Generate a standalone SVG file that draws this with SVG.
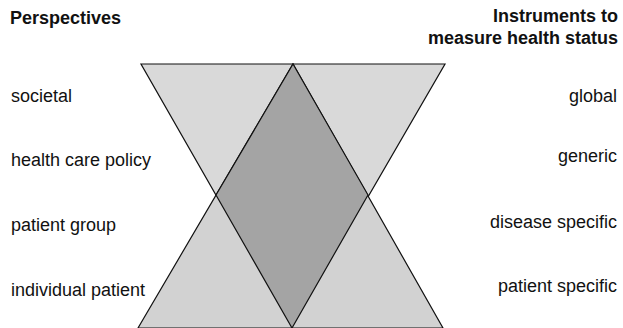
<svg xmlns="http://www.w3.org/2000/svg" width="623" height="328" viewBox="0 0 623 328">
<style>
.t{font-family:"Liberation Sans",Arial,sans-serif;font-size:18px;fill:#111}
.h{font-family:"Liberation Sans",Arial,sans-serif;font-size:18px;font-weight:bold;fill:#111}
.r{text-anchor:end}
.tri{stroke:#111;stroke-width:1.2;stroke-linejoin:miter}
</style>
<rect width="623" height="328" fill="#fff"/>
<g id="shapes">
<polygon id="down-triangle" class="tri" points="141,64 445,64 292,328" fill="#d9d9d9"/>
<polygon id="up-triangle" class="tri" points="138,328 293,64 443,328" fill="#d2d2d2"/>
<polygon id="overlap" class="tri" points="293,64 368,195 292,328 216,195" fill="#a4a4a4"/>
</g>
<g id="header-left"><text class="h" x="10" y="24">Perspectives</text></g>
<g id="header-right"><text class="h r" x="618" y="22">Instruments to</text><text class="h r" x="618" y="43.5">measure health status</text></g>
<g id="perspectives">
<text class="t" x="11" y="102">societal</text>
<text class="t" x="11" y="166">health care policy</text>
<text class="t" x="11" y="231">patient group</text>
<text class="t" x="11" y="296">individual patient</text>
</g>
<g id="instruments">
<text class="t r" x="617" y="102">global</text>
<text class="t r" x="617" y="162">generic</text>
<text class="t r" x="617" y="228">disease specific</text>
<text class="t r" x="617" y="292">patient specific</text>
</g>
</svg>
